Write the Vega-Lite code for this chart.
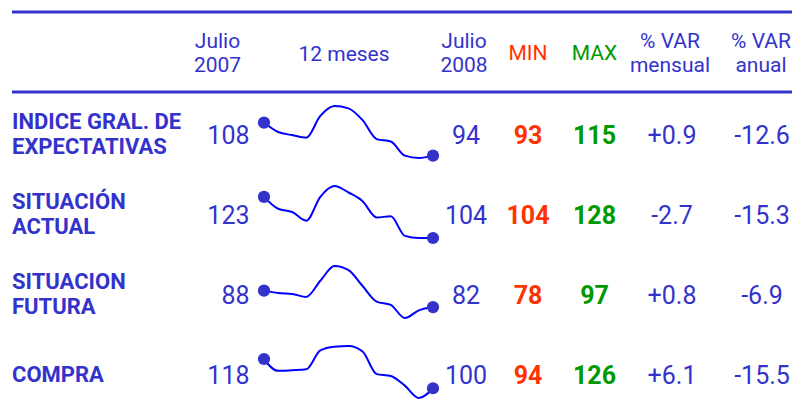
{
  "$schema": "https://vega.github.io/schema/vega-lite/v6.json",
  "padding": {"left": 10, "top": 10, "right": 0, "bottom": 0},
  "background": "white",
  "spacing": 0,
  "bounds": "flush",
  "config": {
    "view": {"stroke": null},
    "font": "Roboto",
    "locale": {"number": {"decimal": ".", "thousands": ",", "grouping": [3], "currency": ["$", ""], "minus": "-"}}
  },
  "datasets": {
    "cabecera": [{"row": "H"}],
    "tabla": [
      {"row": "A", "indicador": "INDICE GRAL. DE\nEXPECTATIVAS", "jul2007": 108, "jul2008": 94, "min": 93, "max": 115, "var_mensual": 0.9, "var_anual": -12.6},
      {"row": "B", "indicador": "SITUACIÓN\nACTUAL", "jul2007": 123, "jul2008": 104, "min": 104, "max": 128, "var_mensual": -2.7, "var_anual": -15.3},
      {"row": "C", "indicador": "SITUACION\nFUTURA", "jul2007": 88, "jul2008": 82, "min": 78, "max": 97, "var_mensual": 0.8, "var_anual": -6.9},
      {"row": "D", "indicador": "COMPRA", "jul2007": 118, "jul2008": 100, "min": 94, "max": 126, "var_mensual": 6.1, "var_anual": -15.5}
    ],
    "series": [
      {"row": "A", "mes": "jul 07", "valor": 108}, {"row": "A", "mes": "ago 07", "valor": 104}, {"row": "A", "mes": "sep 07", "valor": 102.7}, {"row": "A", "mes": "oct 07", "valor": 101.6}, {"row": "A", "mes": "nov 07", "valor": 110.8}, {"row": "A", "mes": "dic 07", "valor": 115}, {"row": "A", "mes": "ene 08", "valor": 114}, {"row": "A", "mes": "feb 08", "valor": 109}, {"row": "A", "mes": "mar 08", "valor": 101}, {"row": "A", "mes": "abr 08", "valor": 100}, {"row": "A", "mes": "may 08", "valor": 94}, {"row": "A", "mes": "jun 08", "valor": 93}, {"row": "A", "mes": "jul 08", "valor": 94},
      {"row": "B", "mes": "jul 07", "valor": 123}, {"row": "B", "mes": "ago 07", "valor": 117.5}, {"row": "B", "mes": "sep 07", "valor": 116}, {"row": "B", "mes": "oct 07", "valor": 112}, {"row": "B", "mes": "nov 07", "valor": 123}, {"row": "B", "mes": "dic 07", "valor": 128}, {"row": "B", "mes": "ene 08", "valor": 125}, {"row": "B", "mes": "feb 08", "valor": 121}, {"row": "B", "mes": "mar 08", "valor": 113.5}, {"row": "B", "mes": "abr 08", "valor": 114}, {"row": "B", "mes": "may 08", "valor": 105}, {"row": "B", "mes": "jun 08", "valor": 104}, {"row": "B", "mes": "jul 08", "valor": 104},
      {"row": "C", "mes": "jul 07", "valor": 88}, {"row": "C", "mes": "ago 07", "valor": 87.1}, {"row": "C", "mes": "sep 07", "valor": 86.8}, {"row": "C", "mes": "oct 07", "valor": 85.7}, {"row": "C", "mes": "nov 07", "valor": 91.6}, {"row": "C", "mes": "dic 07", "valor": 97}, {"row": "C", "mes": "ene 08", "valor": 95.5}, {"row": "C", "mes": "feb 08", "valor": 89.7}, {"row": "C", "mes": "mar 08", "valor": 84}, {"row": "C", "mes": "abr 08", "valor": 82.8}, {"row": "C", "mes": "may 08", "valor": 78}, {"row": "C", "mes": "jun 08", "valor": 80.8}, {"row": "C", "mes": "jul 08", "valor": 82},
      {"row": "D", "mes": "jul 07", "valor": 118}, {"row": "D", "mes": "ago 07", "valor": 110.7}, {"row": "D", "mes": "sep 07", "valor": 111.1}, {"row": "D", "mes": "oct 07", "valor": 111.7}, {"row": "D", "mes": "nov 07", "valor": 123.3}, {"row": "D", "mes": "dic 07", "valor": 125.6}, {"row": "D", "mes": "ene 08", "valor": 126}, {"row": "D", "mes": "feb 08", "valor": 122.6}, {"row": "D", "mes": "mar 08", "valor": 108.7}, {"row": "D", "mes": "abr 08", "valor": 107.5}, {"row": "D", "mes": "may 08", "valor": 101.6}, {"row": "D", "mes": "jun 08", "valor": 94}, {"row": "D", "mes": "jul 08", "valor": 100}
    ]
  },
  "hconcat": [
    {
      "width": 180, "height": 400,
      "layer": [
        {"data": {"name": "cabecera"}, "mark": {"type": "rule", "color": "#3333CC", "strokeWidth": 3}, "encoding": {"y": {"field": "row", "type": "nominal", "bandPosition": 0, "scale": {"type": "band", "domain": ["H", "A", "B", "C", "D"], "paddingInner": 0, "paddingOuter": 0}, "axis": null}}},
        {"data": {"name": "cabecera"}, "mark": {"type": "rule", "color": "#3333CC", "strokeWidth": 3}, "encoding": {"y": {"field": "row", "type": "nominal", "bandPosition": 1, "scale": {"type": "band", "domain": ["H", "A", "B", "C", "D"], "paddingInner": 0, "paddingOuter": 0}, "axis": null}}},
        {"data": {"name": "tabla"}, "transform": [{"filter": {"field": "row", "oneOf": ["A", "B", "C"]}}], "mark": {"type": "text", "align": "left", "baseline": "middle", "dx": -90, "dy": -10, "fontSize": 22, "fontWeight": "bold", "color": "#3333CC", "lineBreak": "\n", "lineHeight": 25}, "encoding": {"y": {"field": "row", "type": "nominal", "scale": {"type": "band", "domain": ["H", "A", "B", "C", "D"], "paddingInner": 0, "paddingOuter": 0}, "axis": null}, "text": {"field": "indicador", "type": "nominal"}}},
        {"data": {"name": "tabla"}, "transform": [{"filter": {"field": "row", "equal": "D"}}], "mark": {"type": "text", "align": "left", "baseline": "middle", "dx": -90, "dy": 3, "fontSize": 22, "fontWeight": "bold", "color": "#3333CC", "lineBreak": "\n", "lineHeight": 25}, "encoding": {"y": {"field": "row", "type": "nominal", "scale": {"type": "band", "domain": ["H", "A", "B", "C", "D"], "paddingInner": 0, "paddingOuter": 0}, "axis": null}, "text": {"field": "indicador", "type": "nominal"}}}
      ]
    },
    {
      "width": 65, "height": 400,
      "layer": [
        {"data": {"name": "cabecera"}, "mark": {"type": "rule", "color": "#3333CC", "strokeWidth": 3}, "encoding": {"y": {"field": "row", "type": "nominal", "bandPosition": 0, "scale": {"type": "band", "domain": ["H", "A", "B", "C", "D"], "paddingInner": 0, "paddingOuter": 0}, "axis": null}}},
        {"data": {"name": "cabecera"}, "mark": {"type": "rule", "color": "#3333CC", "strokeWidth": 3}, "encoding": {"y": {"field": "row", "type": "nominal", "bandPosition": 1, "scale": {"type": "band", "domain": ["H", "A", "B", "C", "D"], "paddingInner": 0, "paddingOuter": 0}, "axis": null}}},
        {"data": {"name": "cabecera"}, "mark": {"type": "text", "text": ["Julio", "2007"], "align": "center", "baseline": "middle", "dx": -7, "dy": -10, "fontSize": 21, "lineHeight": 24, "color": "#3333CC"}, "encoding": {"y": {"field": "row", "type": "nominal", "scale": {"type": "band", "domain": ["H", "A", "B", "C", "D"], "paddingInner": 0, "paddingOuter": 0}, "axis": null}}},
        {"data": {"name": "tabla"}, "mark": {"type": "text", "align": "right", "baseline": "middle", "dx": 25, "dy": 4, "fontSize": 25, "color": "#3333CC"}, "encoding": {"y": {"field": "row", "type": "nominal", "scale": {"type": "band", "domain": ["H", "A", "B", "C", "D"], "paddingInner": 0, "paddingOuter": 0}, "axis": null}, "text": {"field": "jul2007", "type": "quantitative"}}}
      ]
    },
    {
      "width": 183, "height": 400,
      "resolve": {"scale": {"yOffset": "independent"}},
      "layer": [
        {"data": {"name": "cabecera"}, "mark": {"type": "rule", "color": "#3333CC", "strokeWidth": 3}, "encoding": {"y": {"field": "row", "type": "nominal", "bandPosition": 0, "scale": {"type": "band", "domain": ["H", "A", "B", "C", "D"], "paddingInner": 0, "paddingOuter": 0}, "axis": null}}},
        {"data": {"name": "cabecera"}, "mark": {"type": "rule", "color": "#3333CC", "strokeWidth": 3}, "encoding": {"y": {"field": "row", "type": "nominal", "bandPosition": 1, "scale": {"type": "band", "domain": ["H", "A", "B", "C", "D"], "paddingInner": 0, "paddingOuter": 0}, "axis": null}}},
        {"data": {"name": "cabecera"}, "mark": {"type": "text", "text": "12 meses", "align": "center", "baseline": "middle", "dx": -4.5, "dy": 3, "fontSize": 21, "color": "#3333CC"}, "encoding": {"y": {"field": "row", "type": "nominal", "scale": {"type": "band", "domain": ["H", "A", "B", "C", "D"], "paddingInner": 0, "paddingOuter": 0}, "axis": null}}},
        {
          "data": {"name": "series"},
          "transform": [{"filter": {"field": "row", "equal": "A"}}],
          "encoding": {
            "x": {"field": "mes", "type": "ordinal", "sort": null, "scale": {"type": "point", "padding": 0.497}, "axis": null},
            "y": {"field": "row", "type": "nominal", "scale": {"type": "band", "domain": ["H", "A", "B", "C", "D"], "paddingInner": 0, "paddingOuter": 0}, "axis": null},
            "yOffset": {"field": "valor", "type": "quantitative", "scale": {"zero": false, "nice": false, "padding": 14, "reverse": true}}
          },
          "layer": [
            {"mark": {"type": "line", "interpolate": "monotone", "color": "#0000FF", "strokeWidth": 2}},
            {"transform": [{"filter": {"field": "mes", "oneOf": ["jul 07", "jul 08"]}}], "mark": {"type": "circle", "size": 150, "color": "#3333CC", "opacity": 1}}
          ]
        },
        {
          "data": {"name": "series"},
          "transform": [{"filter": {"field": "row", "equal": "B"}}],
          "encoding": {
            "x": {"field": "mes", "type": "ordinal", "sort": null, "scale": {"type": "point", "padding": 0.497}, "axis": null},
            "y": {"field": "row", "type": "nominal", "scale": {"type": "band", "domain": ["H", "A", "B", "C", "D"], "paddingInner": 0, "paddingOuter": 0}, "axis": null},
            "yOffset": {"field": "valor", "type": "quantitative", "scale": {"zero": false, "nice": false, "padding": 14, "reverse": true}}
          },
          "layer": [
            {"mark": {"type": "line", "interpolate": "monotone", "color": "#0000FF", "strokeWidth": 2}},
            {"transform": [{"filter": {"field": "mes", "oneOf": ["jul 07", "jul 08"]}}], "mark": {"type": "circle", "size": 150, "color": "#3333CC", "opacity": 1}}
          ]
        },
        {
          "data": {"name": "series"},
          "transform": [{"filter": {"field": "row", "equal": "C"}}],
          "encoding": {
            "x": {"field": "mes", "type": "ordinal", "sort": null, "scale": {"type": "point", "padding": 0.497}, "axis": null},
            "y": {"field": "row", "type": "nominal", "scale": {"type": "band", "domain": ["H", "A", "B", "C", "D"], "paddingInner": 0, "paddingOuter": 0}, "axis": null},
            "yOffset": {"field": "valor", "type": "quantitative", "scale": {"zero": false, "nice": false, "padding": 14, "reverse": true}}
          },
          "layer": [
            {"mark": {"type": "line", "interpolate": "monotone", "color": "#0000FF", "strokeWidth": 2}},
            {"transform": [{"filter": {"field": "mes", "oneOf": ["jul 07", "jul 08"]}}], "mark": {"type": "circle", "size": 150, "color": "#3333CC", "opacity": 1}}
          ]
        },
        {
          "data": {"name": "series"},
          "transform": [{"filter": {"field": "row", "equal": "D"}}],
          "encoding": {
            "x": {"field": "mes", "type": "ordinal", "sort": null, "scale": {"type": "point", "padding": 0.497}, "axis": null},
            "y": {"field": "row", "type": "nominal", "scale": {"type": "band", "domain": ["H", "A", "B", "C", "D"], "paddingInner": 0, "paddingOuter": 0}, "axis": null},
            "yOffset": {"field": "valor", "type": "quantitative", "scale": {"zero": false, "nice": false, "padding": 14, "reverse": true}}
          },
          "layer": [
            {"mark": {"type": "line", "interpolate": "monotone", "color": "#0000FF", "strokeWidth": 2}},
            {"transform": [{"filter": {"field": "mes", "oneOf": ["jul 07", "jul 08"]}}], "mark": {"type": "circle", "size": 150, "color": "#3333CC", "opacity": 1}}
          ]
        }
      ]
    },
    {
      "width": 59, "height": 400,
      "layer": [
        {"data": {"name": "cabecera"}, "mark": {"type": "rule", "color": "#3333CC", "strokeWidth": 3}, "encoding": {"y": {"field": "row", "type": "nominal", "bandPosition": 0, "scale": {"type": "band", "domain": ["H", "A", "B", "C", "D"], "paddingInner": 0, "paddingOuter": 0}, "axis": null}}},
        {"data": {"name": "cabecera"}, "mark": {"type": "rule", "color": "#3333CC", "strokeWidth": 3}, "encoding": {"y": {"field": "row", "type": "nominal", "bandPosition": 1, "scale": {"type": "band", "domain": ["H", "A", "B", "C", "D"], "paddingInner": 0, "paddingOuter": 0}, "axis": null}}},
        {"data": {"name": "cabecera"}, "mark": {"type": "text", "text": ["Julio", "2008"], "align": "center", "baseline": "middle", "dx": -5.5, "dy": -10, "fontSize": 21, "lineHeight": 24, "color": "#3333CC"}, "encoding": {"y": {"field": "row", "type": "nominal", "scale": {"type": "band", "domain": ["H", "A", "B", "C", "D"], "paddingInner": 0, "paddingOuter": 0}, "axis": null}}},
        {"data": {"name": "tabla"}, "mark": {"type": "text", "align": "center", "baseline": "middle", "dx": -3.5, "dy": 4, "fontSize": 25, "color": "#3333CC"}, "encoding": {"y": {"field": "row", "type": "nominal", "scale": {"type": "band", "domain": ["H", "A", "B", "C", "D"], "paddingInner": 0, "paddingOuter": 0}, "axis": null}, "text": {"field": "jul2008", "type": "quantitative"}}}
      ]
    },
    {
      "width": 58, "height": 400,
      "layer": [
        {"data": {"name": "cabecera"}, "mark": {"type": "rule", "color": "#3333CC", "strokeWidth": 3}, "encoding": {"y": {"field": "row", "type": "nominal", "bandPosition": 0, "scale": {"type": "band", "domain": ["H", "A", "B", "C", "D"], "paddingInner": 0, "paddingOuter": 0}, "axis": null}}},
        {"data": {"name": "cabecera"}, "mark": {"type": "rule", "color": "#3333CC", "strokeWidth": 3}, "encoding": {"y": {"field": "row", "type": "nominal", "bandPosition": 1, "scale": {"type": "band", "domain": ["H", "A", "B", "C", "D"], "paddingInner": 0, "paddingOuter": 0}, "axis": null}}},
        {"data": {"name": "cabecera"}, "mark": {"type": "text", "text": "MIN", "align": "center", "baseline": "middle", "dy": 1.5, "fontSize": 21, "color": "#FF3300"}, "encoding": {"y": {"field": "row", "type": "nominal", "scale": {"type": "band", "domain": ["H", "A", "B", "C", "D"], "paddingInner": 0, "paddingOuter": 0}, "axis": null}}},
        {"data": {"name": "tabla"}, "mark": {"type": "text", "align": "center", "baseline": "middle", "dy": 4, "fontSize": 25, "fontWeight": "bold", "color": "#FF3300"}, "encoding": {"y": {"field": "row", "type": "nominal", "scale": {"type": "band", "domain": ["H", "A", "B", "C", "D"], "paddingInner": 0, "paddingOuter": 0}, "axis": null}, "text": {"field": "min", "type": "quantitative"}}}
      ]
    },
    {
      "width": 72, "height": 400,
      "layer": [
        {"data": {"name": "cabecera"}, "mark": {"type": "rule", "color": "#3333CC", "strokeWidth": 3}, "encoding": {"y": {"field": "row", "type": "nominal", "bandPosition": 0, "scale": {"type": "band", "domain": ["H", "A", "B", "C", "D"], "paddingInner": 0, "paddingOuter": 0}, "axis": null}}},
        {"data": {"name": "cabecera"}, "mark": {"type": "rule", "color": "#3333CC", "strokeWidth": 3}, "encoding": {"y": {"field": "row", "type": "nominal", "bandPosition": 1, "scale": {"type": "band", "domain": ["H", "A", "B", "C", "D"], "paddingInner": 0, "paddingOuter": 0}, "axis": null}}},
        {"data": {"name": "cabecera"}, "mark": {"type": "text", "text": "MAX", "align": "center", "baseline": "middle", "dx": 1.5, "dy": 1.5, "fontSize": 21, "color": "#009900"}, "encoding": {"y": {"field": "row", "type": "nominal", "scale": {"type": "band", "domain": ["H", "A", "B", "C", "D"], "paddingInner": 0, "paddingOuter": 0}, "axis": null}}},
        {"data": {"name": "tabla"}, "mark": {"type": "text", "align": "center", "baseline": "middle", "dx": 1.5, "dy": 4, "fontSize": 25, "fontWeight": "bold", "color": "#009900"}, "encoding": {"y": {"field": "row", "type": "nominal", "scale": {"type": "band", "domain": ["H", "A", "B", "C", "D"], "paddingInner": 0, "paddingOuter": 0}, "axis": null}, "text": {"field": "max", "type": "quantitative"}}}
      ]
    },
    {
      "width": 85, "height": 400,
      "layer": [
        {"data": {"name": "cabecera"}, "mark": {"type": "rule", "color": "#3333CC", "strokeWidth": 3}, "encoding": {"y": {"field": "row", "type": "nominal", "bandPosition": 0, "scale": {"type": "band", "domain": ["H", "A", "B", "C", "D"], "paddingInner": 0, "paddingOuter": 0}, "axis": null}}},
        {"data": {"name": "cabecera"}, "mark": {"type": "rule", "color": "#3333CC", "strokeWidth": 3}, "encoding": {"y": {"field": "row", "type": "nominal", "bandPosition": 1, "scale": {"type": "band", "domain": ["H", "A", "B", "C", "D"], "paddingInner": 0, "paddingOuter": 0}, "axis": null}}},
        {"data": {"name": "cabecera"}, "mark": {"type": "text", "text": ["% VAR", "mensual"], "align": "center", "baseline": "middle", "dx": -1.5, "dy": -10, "fontSize": 21, "lineHeight": 24, "color": "#3333CC"}, "encoding": {"y": {"field": "row", "type": "nominal", "scale": {"type": "band", "domain": ["H", "A", "B", "C", "D"], "paddingInner": 0, "paddingOuter": 0}, "axis": null}}},
        {"data": {"name": "tabla"}, "mark": {"type": "text", "align": "center", "baseline": "middle", "dx": 0.5, "dy": 4, "fontSize": 25, "color": "#3333CC"}, "encoding": {"y": {"field": "row", "type": "nominal", "scale": {"type": "band", "domain": ["H", "A", "B", "C", "D"], "paddingInner": 0, "paddingOuter": 0}, "axis": null}, "text": {"field": "var_mensual", "type": "quantitative", "format": "+.1f"}}}
      ]
    },
    {
      "width": 80, "height": 400,
      "layer": [
        {"data": {"name": "cabecera"}, "mark": {"type": "rule", "color": "#3333CC", "strokeWidth": 3}, "encoding": {"y": {"field": "row", "type": "nominal", "bandPosition": 0, "scale": {"type": "band", "domain": ["H", "A", "B", "C", "D"], "paddingInner": 0, "paddingOuter": 0}, "axis": null}}},
        {"data": {"name": "cabecera"}, "mark": {"type": "rule", "color": "#3333CC", "strokeWidth": 3}, "encoding": {"y": {"field": "row", "type": "nominal", "bandPosition": 1, "scale": {"type": "band", "domain": ["H", "A", "B", "C", "D"], "paddingInner": 0, "paddingOuter": 0}, "axis": null}}},
        {"data": {"name": "cabecera"}, "mark": {"type": "text", "text": ["% VAR", "anual"], "align": "center", "baseline": "middle", "dx": 7, "dy": -10, "fontSize": 21, "lineHeight": 24, "color": "#3333CC"}, "encoding": {"y": {"field": "row", "type": "nominal", "scale": {"type": "band", "domain": ["H", "A", "B", "C", "D"], "paddingInner": 0, "paddingOuter": 0}, "axis": null}}},
        {"data": {"name": "tabla"}, "mark": {"type": "text", "align": "center", "baseline": "middle", "dx": 8, "dy": 4, "fontSize": 25, "color": "#3333CC"}, "encoding": {"y": {"field": "row", "type": "nominal", "scale": {"type": "band", "domain": ["H", "A", "B", "C", "D"], "paddingInner": 0, "paddingOuter": 0}, "axis": null}, "text": {"field": "var_anual", "type": "quantitative", "format": ".1f"}}}
      ]
    }
  ]
}
